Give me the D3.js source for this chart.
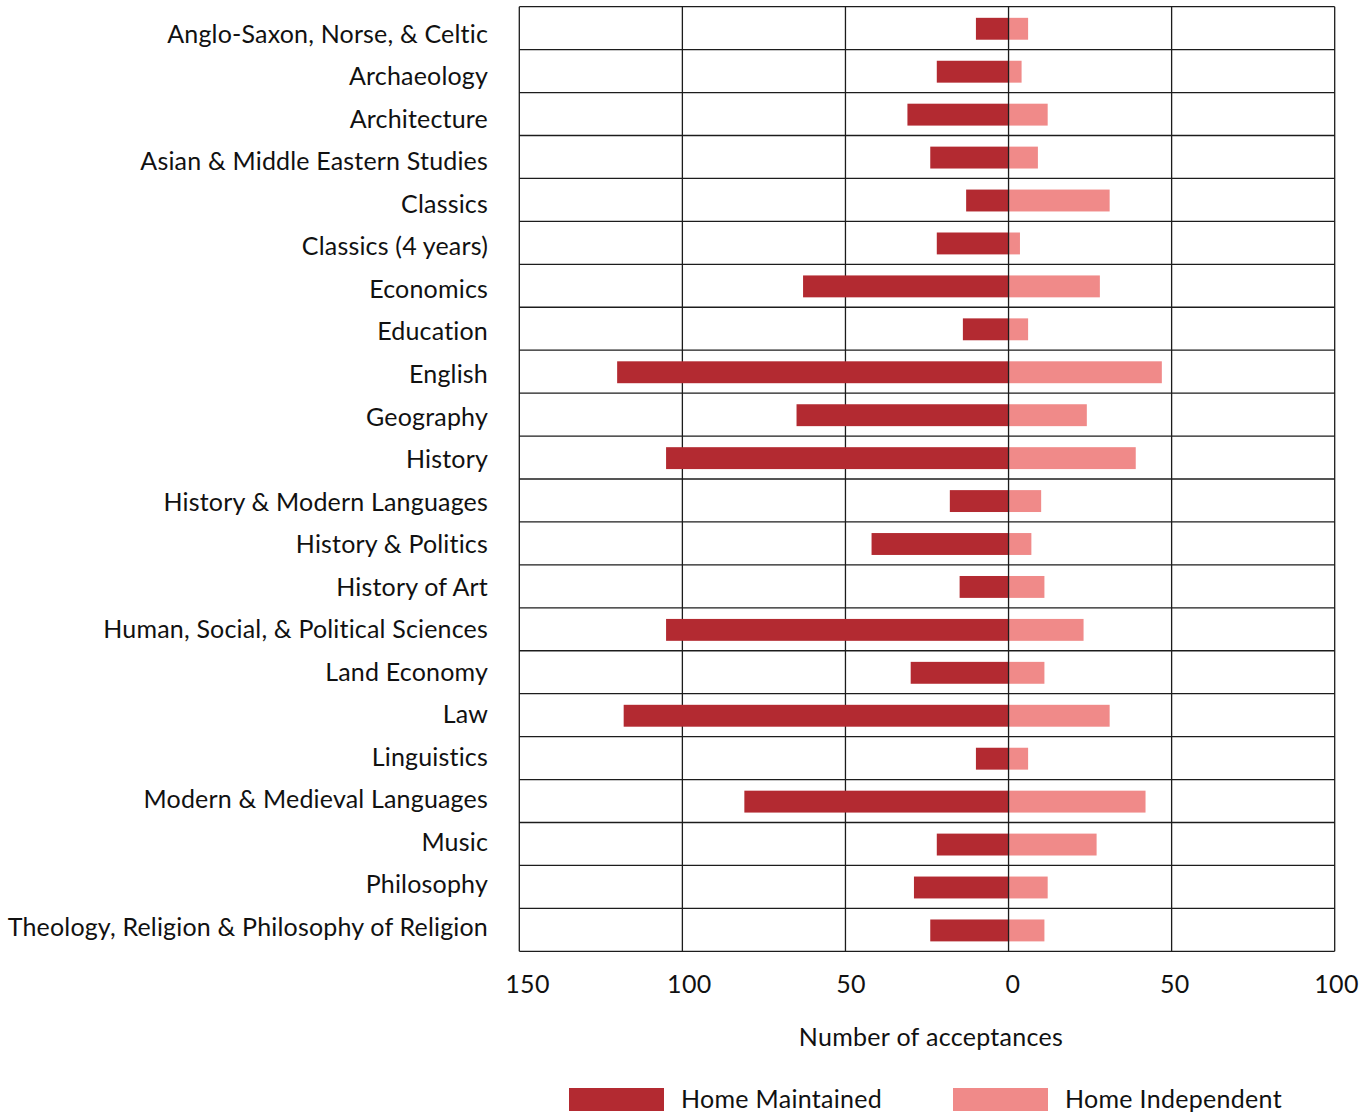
<!DOCTYPE html>
<html>
<head>
<meta charset="utf-8">
<script src="https://cdn.jsdelivr.net/npm/d3@7"></script>
<style>
  html, body { margin: 0; padding: 0; background: #fff; }
  svg { display: block; }
  text { font-family: Lato, "Open Sans", sans-serif; fill: #111; letter-spacing: 0.3px; }
  text.cat { letter-spacing: 0.18px; }
</style>
</head>
<body>
<svg id="chart" width="1371" height="1115"></svg>
<script>
const categories = [
  "Anglo-Saxon, Norse, & Celtic",
  "Archaeology",
  "Architecture",
  "Asian & Middle Eastern Studies",
  "Classics",
  "Classics (4 years)",
  "Economics",
  "Education",
  "English",
  "Geography",
  "History",
  "History & Modern Languages",
  "History & Politics",
  "History of Art",
  "Human, Social, & Political Sciences",
  "Land Economy",
  "Law",
  "Linguistics",
  "Modern & Medieval Languages",
  "Music",
  "Philosophy",
  "Theology, Religion & Philosophy of Religion"
];
const homeMaintained = [10, 22, 31, 24, 13, 22, 63, 14, 120, 65, 105, 18, 42, 15, 105, 30, 118, 10, 81, 22, 29, 24];
const homeIndependent = [6, 4, 12, 9, 31, 3.5, 28, 6, 47, 24, 39, 10, 7, 11, 23, 11, 31, 6, 42, 27, 12, 11];
const tickValues = [-150, -100, -50, 0, 50, 100];
const seriesNames = ["Home Maintained", "Home Independent"];
const seriesColors = ["#B32A31", "#F08A89"];
const axisTitle = "Number of acceptances";

const svg = d3.select("#chart");
const plot = { left: 519.3, right: 1334.7, top: 6.7, bottom: 951.3 };
const FS = 25;

const x = d3.scaleLinear().domain([-150, 100]).range([plot.left, plot.right]);
const xLabels = d3.scaleLinear().domain([-150, 100]).range([527, 1336]);
const rows = d3.scaleBand().domain(categories).range([plot.top, plot.bottom]).padding(0);
const bars = d3.scaleBand().domain(categories).range([plot.top, plot.bottom])
  .paddingInner(0.49).paddingOuter(0.245);
const labelY = d3.scalePoint().domain(categories).range([42.7, 936]);

// grid
const grid = svg.append("g");
grid.selectAll("line.v").data(tickValues.filter(v => v !== 0)).join("line")
  .attr("x1", d => x(d)).attr("x2", d => x(d))
  .attr("y1", plot.top).attr("y2", plot.bottom)
  .attr("stroke", "#1c1c1c").attr("stroke-width", 1.3);
const hLines = categories.map(c => rows(c)).concat([plot.bottom]);
grid.selectAll("line.h").data(hLines).join("line")
  .attr("x1", plot.left).attr("x2", plot.right)
  .attr("y1", d => d).attr("y2", d => d)
  .attr("stroke", "#1c1c1c").attr("stroke-width", 1.3);

// bars
svg.append("g").selectAll("rect").data(categories).join("rect")
  .attr("x", (d, i) => x(-homeMaintained[i]))
  .attr("width", (d, i) => x(0) - x(-homeMaintained[i]))
  .attr("y", d => bars(d) + 0.6)
  .attr("height", bars.bandwidth())
  .attr("fill", seriesColors[0]);
svg.append("g").selectAll("rect").data(categories).join("rect")
  .attr("x", x(0))
  .attr("width", (d, i) => x(homeIndependent[i]) - x(0))
  .attr("y", d => bars(d) + 0.6)
  .attr("height", bars.bandwidth())
  .attr("fill", seriesColors[1]);

// zero line
svg.append("line")
  .attr("x1", x(0)).attr("x2", x(0))
  .attr("y1", plot.top).attr("y2", plot.bottom)
  .attr("stroke", "#1c1c1c").attr("stroke-width", 1.3);

// category labels
svg.append("g").selectAll("text").data(categories).join("text")
  .attr("class", "cat")
  .attr("x", 488)
  .attr("y", d => labelY(d))
  .attr("text-anchor", "end")
  .attr("font-size", FS)
  .text(d => d);

// x axis tick labels
const axis = d3.axisBottom(xLabels).tickValues(tickValues).tickFormat(d => Math.abs(d)).tickSize(0).tickPadding(8);
const ax = svg.append("g").attr("transform", "translate(0,967)").call(axis);
ax.select(".domain").remove();
ax.selectAll("text").attr("font-size", FS).attr("font-family", "Lato, 'Open Sans', sans-serif").attr("fill", "#111");

// axis title
svg.append("text")
  .attr("x", 931).attr("y", 1045.7)
  .attr("text-anchor", "middle")
  .attr("font-size", FS)
  .text(axisTitle);

// legend
const legendX = [569, 953];
const lg = svg.append("g").selectAll("g").data(seriesNames).join("g")
  .attr("transform", (d, i) => `translate(${legendX[i]},1088)`);
lg.append("rect").attr("width", 95).attr("height", 23).attr("fill", (d, i) => seriesColors[i]);
lg.append("text").attr("x", 112).attr("y", 20.3).attr("font-size", FS).text(d => d);
</script>
</body>
</html>
